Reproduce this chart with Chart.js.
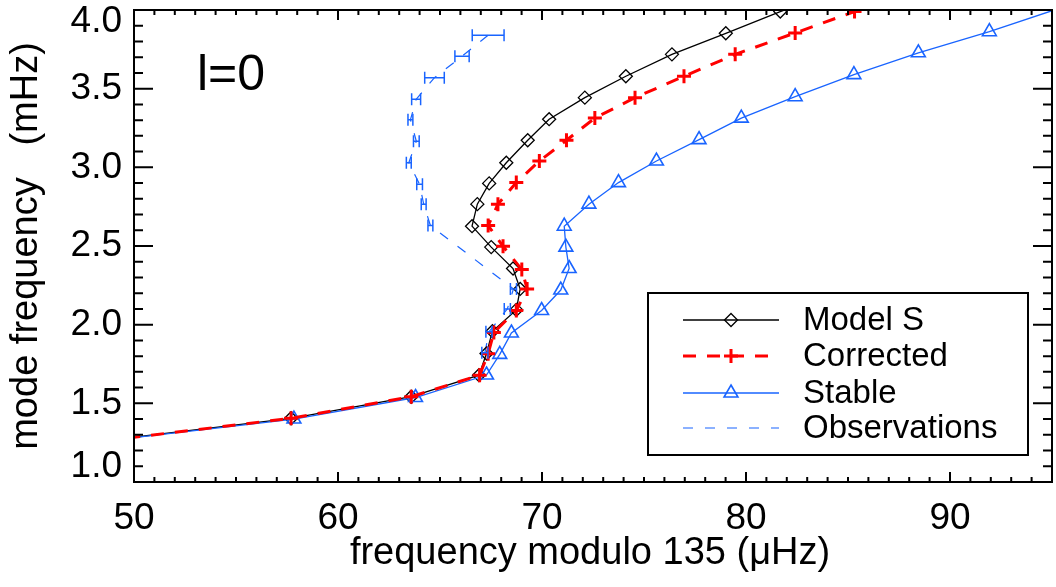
<!DOCTYPE html>
<html>
<head>
<meta charset="utf-8">
<script src="https://cdn.jsdelivr.net/npm/chart.js@4.4.1/dist/chart.umd.min.js"></script>
<style>
  html, body { margin: 0; padding: 0; background: #fff; overflow: hidden; }
  #wrap { width: 1062px; height: 587px; }
</style>
</head>
<body>
<div id="wrap"><canvas id="modes" width="1062" height="587"></canvas></div>
<script>
// l=0 echelle: frequency modulo 135 uHz (x) vs mode frequency in mHz (y)
const modelX = [48.5, 57.70, 63.59, 66.91, 67.28, 67.57, 68.74, 68.93, 68.58, 67.51, 66.57, 66.83, 67.41, 68.25, 69.30, 70.35, 72.10, 74.11, 76.37, 79.01, 81.68, 84.6];
const modelY = [1.261, 1.405, 1.542, 1.679, 1.817, 1.958, 2.094, 2.227, 2.357, 2.493, 2.626, 2.766, 2.898, 3.029, 3.172, 3.306, 3.443, 3.579, 3.718, 3.852, 3.99, 4.13];

const corrX = [48.5, 57.70, 63.59, 66.94, 67.36, 67.64, 68.74, 69.27, 69.01, 68.09, 67.36, 67.84, 68.74, 69.87, 71.20, 72.59, 74.56, 76.96, 79.47, 82.41, 85.32, 88.4];
const corrY = [1.261, 1.405, 1.542, 1.679, 1.815, 1.951, 2.090, 2.227, 2.350, 2.498, 2.630, 2.766, 2.903, 3.040, 3.172, 3.313, 3.443, 3.579, 3.718, 3.854, 3.99, 4.13];

const stableX = [48.6, 57.84, 63.80, 67.28, 67.93, 68.50, 69.98, 70.92, 71.33, 71.17, 71.09, 72.30, 73.75, 75.61, 77.70, 79.77, 82.41, 85.29, 88.45, 91.93, 95.8];
const stableY = [1.261, 1.400, 1.537, 1.680, 1.811, 1.947, 2.090, 2.220, 2.357, 2.493, 2.626, 2.766, 2.903, 3.040, 3.176, 3.313, 3.449, 3.589, 3.728, 3.862, 4.03];

const obsX   = [67.20, 67.40, 68.30, 68.60, 64.53, 64.20, 64.00, 63.47, 63.84, 63.55, 63.83, 64.73, 66.08, 67.36];
const obsY   = [1.821, 1.955, 2.100, 2.227, 2.630, 2.766, 2.892, 3.029, 3.166, 3.302, 3.432, 3.570, 3.706, 3.840];
const obsErr = [0.15, 0.15, 0.15, 0.15, 0.12, 0.12, 0.14, 0.12, 0.14, 0.12, 0.22, 0.48, 0.35, 0.78];

const xTickLabels = ['50', '60', '70', '80', '90'];
const yTickLabels = ['1.0', '1.5', '2.0', '2.5', '3.0', '3.5', '4.0'];

const BLUE = 'rgb(25, 100, 255)';
const FONT = "'Liberation Sans', Helvetica, Arial, sans-serif";

const pts = (xs, ys) => xs.map((v, i) => ({x: v, y: ys[i]}));

function marker(ctx, style, r, x, y, color, width) {
  ctx.save();
  ctx.strokeStyle = color;
  ctx.lineWidth = width;
  ctx.setLineDash([]);
  ctx.beginPath();
  if (style === 'rectRot') {
    ctx.moveTo(x - r, y); ctx.lineTo(x, y - r); ctx.lineTo(x + r, y); ctx.lineTo(x, y + r); ctx.closePath();
  } else if (style === 'cross') {
    ctx.moveTo(x - r, y); ctx.lineTo(x + r, y); ctx.moveTo(x, y - r); ctx.lineTo(x, y + r);
  } else if (style === 'triangle') {
    ctx.moveTo(x, y - r);
    ctx.lineTo(x + r * Math.sin(2 * Math.PI / 3), y - r * Math.cos(2 * Math.PI / 3));
    ctx.lineTo(x + r * Math.sin(4 * Math.PI / 3), y - r * Math.cos(4 * Math.PI / 3));
    ctx.closePath();
  }
  ctx.stroke();
  ctx.restore();
}

// horizontal error bars on the observations
const errorBars = {
  id: 'errorBars',
  afterDatasetsDraw(chart) {
    const {ctx, chartArea: a, scales: {x, y}} = chart;
    ctx.save();
    ctx.beginPath();
    ctx.rect(a.left, a.top, a.right - a.left, a.bottom - a.top);
    ctx.clip();
    ctx.strokeStyle = BLUE;
    ctx.lineWidth = 1.5;
    obsX.forEach((v, i) => {
      const x0 = x.getPixelForValue(v - obsErr[i]);
      const x1 = x.getPixelForValue(v + obsErr[i]);
      const py = y.getPixelForValue(obsY[i]);
      ctx.beginPath();
      ctx.moveTo(x0, py); ctx.lineTo(x1, py);
      ctx.moveTo(x0, py - 6); ctx.lineTo(x0, py + 6);
      ctx.moveTo(x1, py - 6); ctx.lineTo(x1, py + 6);
      ctx.stroke();
    });
    ctx.restore();
  }
};

// IDL style frame: ticks pointing inward on all four sides
const frame = {
  id: 'frame',
  afterDraw(chart) {
    const {ctx, chartArea: a, scales: {x, y}} = chart;
    ctx.save();
    ctx.strokeStyle = '#000';
    ctx.lineWidth = 2;
    ctx.strokeRect(a.left, a.top, a.right - a.left, a.bottom - a.top);
    ctx.beginPath();
    for (let i = 0; i <= 45; i++) {
      const px = x.getPixelForValue(50 + i);
      const len = i % 10 === 0 ? 10 : 5;
      ctx.moveTo(px, a.bottom); ctx.lineTo(px, a.bottom - len);
      ctx.moveTo(px, a.top); ctx.lineTo(px, a.top + len);
    }
    for (let i = 0; i <= 30; i++) {
      const py = y.getPixelForValue(1 + i * 0.1);
      const len = i % 5 === 0 ? 19 : 9;
      ctx.moveTo(a.left, py); ctx.lineTo(a.left + len, py);
      ctx.moveTo(a.right, py); ctx.lineTo(a.right - len, py);
    }
    ctx.stroke();

    ctx.fillStyle = '#000';
    ctx.font = '37px ' + FONT;
    ctx.textAlign = 'center';
    ctx.textBaseline = 'middle';
    xTickLabels.forEach(t => ctx.fillText(t, x.getPixelForValue(+t), a.bottom + 37));
    ctx.textAlign = 'right';
    yTickLabels.forEach(t => {
      const py = Math.min(Math.max(y.getPixelForValue(+t), a.top + 12), a.bottom - 15);
      ctx.fillText(t, a.left - 12, py);
    });

    ctx.font = '38px ' + FONT;
    ctx.textAlign = 'center';
    ctx.fillText('frequency modulo 135 (\u03BCHz)', (a.left + a.right) / 2 - 3, a.bottom + 72);
    ctx.save();
    ctx.translate(27, (a.top + a.bottom) / 2);
    ctx.rotate(-Math.PI / 2);
    ctx.fillText('mode frequency   (mHz)', 0, 0);
    ctx.restore();

    ctx.font = '50px ' + FONT;
    ctx.textAlign = 'left';
    ctx.textBaseline = 'alphabetic';
    ctx.fillText('l=0', a.left + 63, a.top + 80);

    // legend
    const bx = 648, by = 293, bw = 380, bh = 162;
    ctx.fillStyle = '#fff';
    ctx.fillRect(bx, by, bw, bh);
    ctx.strokeStyle = '#000';
    ctx.lineWidth = 2;
    ctx.strokeRect(bx, by, bw, bh);
    const rows = [320, 356, 393, 428];
    ['Model S', 'Corrected', 'Stable', 'Observations'].forEach((name, k) => {
      const ds = chart.data.datasets.find(d => d.label === name);
      const ry = rows[k];
      ctx.save();
      ctx.strokeStyle = ds.borderColor;
      ctx.lineWidth = ds.borderWidth;
      ctx.setLineDash(ds.borderDash || []);
      ctx.beginPath();
      ctx.moveTo(683, ry); ctx.lineTo(779, ry);
      ctx.stroke();
      ctx.restore();
      if (ds.pointRadius > 0) {
        marker(ctx, ds.pointStyle, ds.pointRadius, 731, ry, ds.pointBorderColor, ds.pointBorderWidth);
      }
      ctx.fillStyle = '#000';
      ctx.font = '33px ' + FONT;
      ctx.textBaseline = 'middle';
      ctx.fillText(name, 803, ry + 1);
    });
    ctx.restore();
  }
};

new Chart(document.getElementById('modes'), {
  type: 'line',
  data: {
    datasets: [
      {
        label: 'Model S', data: pts(modelX, modelY), order: 2,
        borderColor: '#000', borderWidth: 1.3,
        pointStyle: 'rectRot', pointRadius: 6.5, pointBorderColor: '#000', pointBorderWidth: 1.3,
        pointBackgroundColor: 'rgba(0,0,0,0)'
      },
      {
        label: 'Corrected', data: pts(corrX, corrY), order: 0,
        borderColor: 'rgb(255, 0, 0)', borderWidth: 3, borderDash: [13, 11],
        pointStyle: 'cross', pointRadius: 7, pointBorderColor: 'rgb(255, 0, 0)', pointBorderWidth: 3
      },
      {
        label: 'Stable', data: pts(stableX, stableY), order: 1,
        borderColor: BLUE, borderWidth: 1.3,
        pointStyle: 'triangle', pointRadius: 8, pointBorderColor: BLUE, pointBorderWidth: 1.6,
        pointBackgroundColor: 'rgba(0,0,0,0)'
      },
      {
        label: 'Observations', data: pts(obsX, obsY), order: 3,
        borderColor: BLUE, borderWidth: 1.2, borderDash: [10, 12],
        pointRadius: 0
      }
    ]
  },
  options: {
    responsive: false,
    animation: false,
    devicePixelRatio: 1,
    layout: { padding: { left: 134, right: 1, top: 7, bottom: 105 } },
    elements: { line: { tension: 0, fill: false } },
    scales: {
      x: { type: 'linear', min: 50, max: 95, display: false },
      y: { type: 'linear', min: 1.0, max: 4.0, display: false }
    },
    plugins: {
      legend: { display: false },
      tooltip: { enabled: false }
    }
  },
  plugins: [errorBars, frame]
});
</script>
</body>
</html>
